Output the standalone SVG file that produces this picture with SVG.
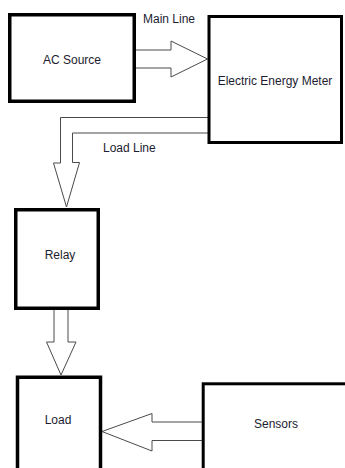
<svg xmlns="http://www.w3.org/2000/svg" width="345" height="468" viewBox="0 0 345 468">
<style>
.box{fill:#fff;stroke:#000}
.arrow{fill:#fff;stroke:#4a4a4a;stroke-width:1}
text{font-family:"Liberation Sans",Arial,sans-serif;font-size:12px;fill:#1c1c30}
.c{text-anchor:middle}
</style>
<rect width="345" height="468" fill="#fff"/>
<g id="connectors">
<path class="arrow" d="M136,50 H171 V41 L207.5,59 L171,77 V68 H136"/>
<path class="arrow" d="M208,117.5 H60.5 V163 H53.5 L66.5,207 L79.5,162.5 H72.5 V133 H208"/>
<path class="arrow" d="M54,310 V342 H46.5 L61,375 L76,342 H68 V310"/>
<path class="arrow" d="M202,422 H152 V413.5 L102,431.5 L152,451 V440.5 H202"/>
<text x="143" y="23">Main Line</text>
<text x="103" y="152">Load Line</text>
</g>
<g id="ac-source">
<rect class="box" x="9.75" y="14.75" width="124.5" height="86.5" stroke-width="3.5"/>
<text class="c" x="72" y="64">AC Source</text>
</g>
<g id="meter">
<rect class="box" x="209" y="16.5" width="132.5" height="126" stroke-width="3"/>
<text class="c" x="275" y="85">Electric Energy Meter</text>
</g>
<g id="relay">
<rect class="box" x="15.75" y="209.75" width="82.5" height="98.5" stroke-width="3.5"/>
<text class="c" x="60" y="259">Relay</text>
</g>
<g id="load">
<rect class="box" x="17.5" y="377.25" width="83" height="100" stroke-width="3.5"/>
<text class="c" x="58" y="424">Load</text>
</g>
<g id="sensors">
<rect class="box" x="203.2" y="383.8" width="150" height="100" stroke-width="3"/>
<text class="c" x="276" y="428">Sensors</text>
</g>
</svg>
